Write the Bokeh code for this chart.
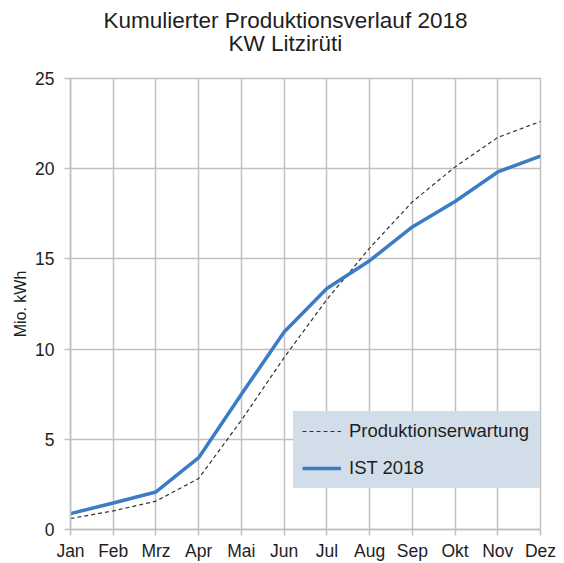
from bokeh.plotting import figure
from bokeh.models import Range1d, FixedTicker, Title, Legend, LegendItem
from bokeh.embed import file_html
from bokeh.resources import INLINE

months = ["Jan", "Feb", "Mrz", "Apr", "Mai", "Jun", "Jul", "Aug", "Sep", "Okt", "Nov", "Dez"]
ist_2018 = [0.88, 1.47, 2.08, 3.98, 7.5, 10.95, 13.36, 14.9, 16.77, 18.18, 19.82, 20.7]
erwartung = [0.61, 1.03, 1.57, 2.83, 6.06, 9.53, 12.75, 15.6, 18.16, 20.1, 21.73, 22.62]
y_ticks = [0, 5, 10, 15, 20, 25]
title_lines = ["Kumulierter Produktionsverlauf 2018", "KW Litzirüti"]

FONT = "Liberation Sans"
GRID = "#c0c0c0"
TXT = "#1e1e1e"

x = list(range(len(months)))

p = figure(width=556, height=563, output_backend="svg", toolbar_location=None,
           x_range=Range1d(0, len(months) - 1), y_range=Range1d(0, 25),
           min_border_left=70, min_border_right=16, min_border_bottom=34, min_border_top=78)
p.title.visible = False

# second line indented with no-break spaces so that each line is centred
title_text = title_lines[0] + "\n" + "\u00a0" * 20 + title_lines[1] + "\n"
p.add_layout(Title(text=title_text, align="left", offset=33, standoff=0,
                   text_font=FONT, text_font_size="22.5px", text_font_style="normal",
                   text_line_height=0.92, text_color=TXT), "above")

p.outline_line_color = GRID
p.outline_line_width = 1.5
p.background_fill_color = "white"
p.border_fill_color = "white"

p.xaxis.ticker = FixedTicker(ticks=x)
p.xaxis.major_label_overrides = {i: m for i, m in enumerate(months)}
p.yaxis.ticker = FixedTicker(ticks=y_ticks)
for ax in (p.xaxis, p.yaxis):
    ax.axis_line_color = GRID
    ax.axis_line_width = 1.5
    ax.major_tick_line_color = GRID
    ax.major_tick_line_width = 1.5
    ax.major_tick_out = 6
    ax.major_tick_in = 0
    ax.minor_tick_line_color = None
    ax.major_label_text_font = FONT
    ax.major_label_text_font_size = "17.5px"
    ax.major_label_text_color = TXT
p.xaxis.major_label_standoff = 5
p.yaxis.major_label_standoff = 10
p.yaxis.axis_label = "Mio. kWh"
p.yaxis.axis_label_text_font = FONT
p.yaxis.axis_label_text_font_size = "16px"
p.yaxis.axis_label_text_font_style = "normal"
p.yaxis.axis_label_text_color = TXT
p.yaxis.axis_label_standoff = 3

p.xgrid.grid_line_color = GRID
p.ygrid.grid_line_color = GRID
p.xgrid.grid_line_width = 1.5
p.ygrid.grid_line_width = 1.5

r_erw = p.line(x, erwartung, line_color="#333333", line_width=1.2, line_dash="4 3")
r_ist = p.line(x, ist_2018, line_color="#3a7cc6", line_width=3.5)

legend = Legend(items=[LegendItem(label="Produktionserwartung", renderers=[r_erw]),
                       LegendItem(label="IST 2018", renderers=[r_ist])],
                location=(223, 41), orientation="vertical",
                background_fill_color="#d1deea", background_fill_alpha=1.0,
                border_line_color="#d1deea", border_line_alpha=0.0,
                padding=9, spacing=15, margin=0,
                glyph_width=39, glyph_height=16, label_standoff=8,
                label_text_font=FONT, label_text_font_size="18.5px",
                label_text_color=TXT, label_width=186)
p.add_layout(legend, "center")

open("out.html", "w").write(file_html(p, INLINE))
